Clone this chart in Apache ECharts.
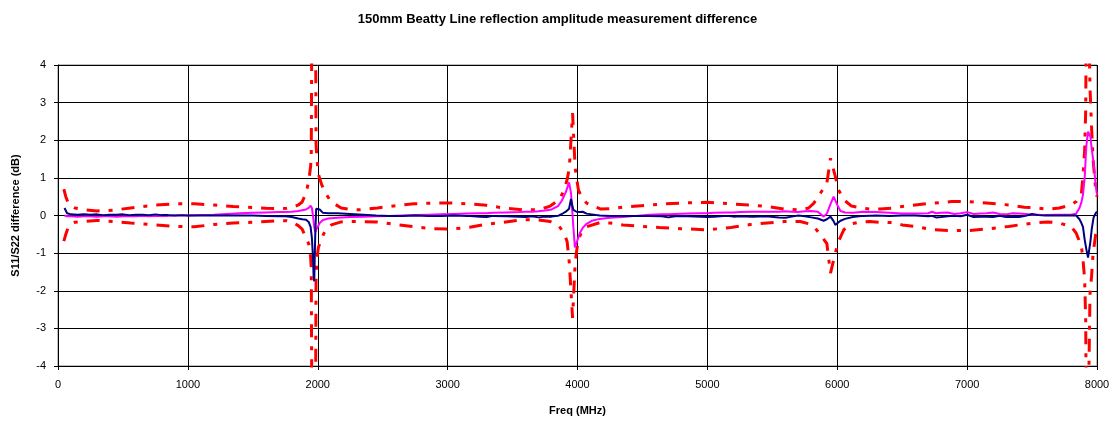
<!DOCTYPE html>
<html>
<head>
<meta charset="utf-8">
<script src="https://cdn.jsdelivr.net/npm/echarts@6/dist/echarts.min.js"></script>
<style>
html,body{margin:0;padding:0;background:#fff;}
#chart{width:1115px;height:421px;}
</style>
</head>
<body>
<div id="chart"></div>
<script>
// ---- data ----
const titleText = "150mm Beatty Line reflection amplitude measurement difference";
const xName = "Freq (MHz)";
const yName = "S11/S22 difference (dB)";
const xTicks = [0, 1000, 2000, 3000, 4000, 5000, 6000, 7000, 8000];
const yTicks = [-4, -3, -2, -1, 0, 1, 2, 3, 4];

// uncertainty bounds (red dash-dot)
const boundFreq = [45,60,80,100,130,190,300,420,560,750,900,1050,1200,1350,1500,1600,1700,1760,1810,1850,1880,1910,1930,1945,1950,1958,1980,1987,1995,2005,2030,2065,2105,2180,2250,2320,2460,2600,2740,2890,3030,3170,3300,3430,3580,3700,3790,3860,3900,3920,3937,3962,3982,3995,4007,4030,4070,4180,4250,4350,4490,4630,4790,5000,5180,5330,5460,5590,5715,5780,5820,5870,5920,5948,5985,6010,6050,6110,6180,6250,6330,6430,6500,6600,6740,6880,7010,7150,7320,7440,7540,7620,7710,7800,7840,7880,7892,7905,7913,7922,7936,7946,7958,7970,7990,8000];
const upperBound = [0.7,0.5,0.32,0.25,0.2,0.16,0.12,0.14,0.2,0.28,0.31,0.31,0.28,0.24,0.21,0.19,0.18,0.19,0.22,0.28,0.36,0.6,0.9,1.3,1.6,8,8,1.9,1.45,1.1,0.82,0.56,0.36,0.2,0.16,0.15,0.2,0.26,0.31,0.33,0.33,0.31,0.27,0.2,0.15,0.15,0.25,0.42,0.7,0.95,1.26,2.72,1.26,0.95,0.68,0.5,0.33,0.17,0.18,0.22,0.26,0.3,0.33,0.35,0.31,0.28,0.24,0.17,0.15,0.2,0.33,0.59,0.86,1.52,1.04,0.68,0.42,0.25,0.2,0.17,0.17,0.2,0.24,0.28,0.33,0.37,0.37,0.33,0.28,0.22,0.2,0.17,0.2,0.28,0.37,0.59,1.04,1.74,2.8,8,8,3.4,2.36,1.48,0.68,0.5];
const lowerBound = [-0.68,-0.5,-0.3,-0.22,-0.18,-0.16,-0.13,-0.16,-0.2,-0.25,-0.29,-0.3,-0.24,-0.2,-0.18,-0.16,-0.14,-0.14,-0.19,-0.27,-0.36,-0.6,-0.75,-1.1,-1.4,-8,-8,-1.6,-1.1,-0.85,-0.6,-0.35,-0.25,-0.17,-0.16,-0.16,-0.17,-0.24,-0.3,-0.35,-0.36,-0.31,-0.23,-0.18,-0.11,-0.12,-0.16,-0.29,-0.5,-0.69,-1.26,-2.72,-1.26,-0.9,-0.64,-0.45,-0.3,-0.18,-0.2,-0.25,-0.29,-0.32,-0.35,-0.38,-0.32,-0.24,-0.2,-0.16,-0.16,-0.22,-0.29,-0.51,-0.75,-1.53,-1.0,-0.69,-0.38,-0.22,-0.17,-0.16,-0.18,-0.19,-0.25,-0.29,-0.38,-0.4,-0.4,-0.36,-0.29,-0.23,-0.19,-0.17,-0.2,-0.29,-0.47,-0.82,-1.17,-1.7,-2.8,-8,-8,-2.1,-1.62,-1.0,-0.5,-0.4];

// measured differences
const measFreq = [50,70,100,150,200,250,300,350,400,450,500,550,600,650,700,750,800,850,900,950,1000,1100,1200,1300,1400,1500,1600,1700,1750,1800,1850,1880,1910,1930,1945,1955,1963,1968,1973,1980,1988,2000,2015,2040,2080,2150,2250,2350,2450,2550,2650,2750,2850,2950,3050,3150,3250,3300,3350,3450,3550,3600,3650,3700,3750,3800,3850,3880,3910,3935,3950,3958,3968,3980,3992,4005,4020,4040,4070,4110,4170,4250,4350,4450,4550,4650,4700,4750,4850,4950,5000,5050,5150,5200,5250,5350,5450,5550,5600,5650,5700,5750,5800,5850,5895,5920,5948,5972,5985,6000,6025,6060,6120,6200,6300,6400,6500,6600,6700,6730,6760,6800,6850,6900,6950,7000,7050,7100,7150,7200,7250,7300,7350,7400,7450,7500,7550,7600,7700,7800,7840,7865,7880,7892,7905,7918,7931,7949,7960,7974,7990,8000];
const magentaDiff = [0.0,-0.02,-0.02,-0.03,-0.02,-0.02,-0.03,-0.02,-0.02,-0.03,-0.02,-0.02,-0.02,-0.01,-0.02,-0.01,-0.01,-0.01,0.0,0.0,0.0,0.01,0.02,0.04,0.06,0.07,0.08,0.09,0.09,0.1,0.12,0.14,0.16,0.2,0.26,0.2,0.0,-0.15,-0.3,-0.45,-0.38,-0.3,-0.2,-0.12,-0.08,-0.06,-0.04,-0.03,-0.02,-0.01,0.0,0.01,0.02,0.03,0.04,0.05,0.06,0.06,0.07,0.08,0.09,0.1,0.1,0.11,0.13,0.16,0.25,0.4,0.62,0.88,0.6,0.2,-0.3,-0.85,-0.8,-0.6,-0.45,-0.33,-0.22,-0.14,-0.09,-0.06,-0.04,-0.01,0.02,0.03,0.03,0.04,0.05,0.06,0.06,0.07,0.08,0.08,0.09,0.1,0.1,0.1,0.11,0.1,0.09,0.11,0.12,0.1,-0.03,0.05,0.3,0.5,0.4,0.28,0.12,0.08,0.07,0.1,0.09,0.07,0.05,0.05,0.06,0.1,0.06,0.07,0.08,0.04,0.06,0.09,0.04,0.05,0.06,0.08,0.04,0.03,0.06,0.05,0.04,0.02,0.02,0.01,0.02,0.02,0.05,0.2,0.35,0.55,1.0,1.85,2.23,2.1,1.75,1.4,0.8,0.55];
const navyDiff = [0.2,0.06,0.03,0.02,0.03,0.02,0.03,0.01,0.02,0.02,0.03,0.01,0.02,0.02,0.01,0.03,0.01,0.01,0.0,0.01,0.0,0.0,0.0,0.0,0.0,0.0,-0.01,-0.02,-0.02,-0.04,-0.08,-0.1,-0.11,-0.17,-0.3,-0.6,-1.1,-1.6,-1.75,-0.6,0.18,0.2,0.16,0.07,0.06,0.06,0.04,0.02,0.0,-0.01,-0.01,0.0,-0.01,-0.01,0.0,-0.01,-0.03,-0.04,-0.01,-0.02,-0.03,-0.04,-0.02,-0.05,-0.03,-0.03,-0.01,0.04,0.1,0.18,0.44,0.3,0.15,0.12,0.1,0.1,0.09,0.1,0.05,0.03,0.0,-0.01,-0.01,-0.01,-0.01,-0.02,-0.05,-0.02,-0.02,-0.03,-0.04,-0.03,-0.01,-0.03,-0.02,-0.03,-0.02,-0.05,-0.06,-0.03,0.0,-0.02,-0.05,-0.08,-0.14,-0.1,-0.03,-0.15,-0.25,-0.2,-0.14,-0.09,-0.04,-0.01,0.0,-0.01,0.0,0.0,-0.02,-0.01,-0.05,-0.04,-0.02,-0.01,-0.02,0.02,-0.04,-0.03,-0.03,-0.04,-0.01,-0.04,-0.03,-0.04,-0.01,0.04,0.01,0.0,0.0,0.0,0.0,-0.1,-0.2,-0.3,-0.64,-0.9,-1.12,-0.7,-0.35,-0.05,0.06,0.1];

function pairs(xs, ys) { return xs.map((x, i) => [x, ys[i]]); }

const chart = echarts.init(document.getElementById('chart'), null, {renderer: 'canvas'});
const FONT = "'Liberation Sans', Arial, sans-serif";
const redStyle = {color: '#FF0000', width: 3, type: [13, 9, 4, 9], cap: 'butt'};

chart.setOption({
  animation: false,
  backgroundColor: '#ffffff',
  textStyle: {fontFamily: FONT},
  title: {
    text: titleText,
    left: 'center',
    top: 8,
    textStyle: {fontFamily: FONT, fontSize: 13, fontWeight: 'bold', color: '#000'}
  },
  grid: {left: 58, right: 18, top: 65, bottom: 55, show: true, borderColor: '#808080', borderWidth: 1},
  xAxis: {
    type: 'value',
    min: xTicks[0], max: xTicks[xTicks.length - 1], interval: 1000,
    name: xName, nameLocation: 'middle', nameGap: 39,
    nameTextStyle: {fontFamily: FONT, fontSize: 11, fontWeight: 'bold', color: '#000'},
    axisLine: {show: true, onZero: false, lineStyle: {color: '#000', width: 1}},
    axisTick: {show: true, inside: false, length: 4, lineStyle: {color: '#000'}},
    axisLabel: {fontFamily: FONT, fontSize: 11, color: '#000', margin: 13, formatter: v => String(v)},
    splitLine: {show: true, lineStyle: {color: '#000', width: 1}}
  },
  yAxis: {
    type: 'value',
    min: yTicks[0], max: yTicks[yTicks.length - 1], interval: 1,
    name: yName, nameLocation: 'middle', nameGap: 37, nameRotate: 90,
    nameTextStyle: {fontFamily: FONT, fontSize: 11, fontWeight: 'bold', color: '#000'},
    axisLine: {show: true, onZero: false, lineStyle: {color: '#000', width: 1}},
    axisTick: {show: true, inside: false, length: 4, lineStyle: {color: '#000'}},
    axisLabel: {fontFamily: FONT, fontSize: 11, color: '#000', margin: 12, formatter: v => String(v)},
    splitLine: {show: true, lineStyle: {color: '#000', width: 1}}
  },
  series: [
    {name: 'upper', type: 'line', data: pairs(boundFreq, upperBound), showSymbol: false, symbol: 'none', clip: true, lineStyle: redStyle, z: 2},
    {name: 'lower', type: 'line', data: pairs(boundFreq, lowerBound), showSymbol: false, symbol: 'none', clip: true, lineStyle: redStyle, z: 2},
    {name: 'S11', type: 'line', data: pairs(measFreq, magentaDiff), showSymbol: false, symbol: 'none', clip: true, lineStyle: {color: '#FF00FF', width: 2}, z: 3},
    {name: 'S22', type: 'line', data: pairs(measFreq, navyDiff), showSymbol: false, symbol: 'none', clip: true, lineStyle: {color: '#000080', width: 2}, z: 4}
  ]
});
</script>
</body>
</html>
